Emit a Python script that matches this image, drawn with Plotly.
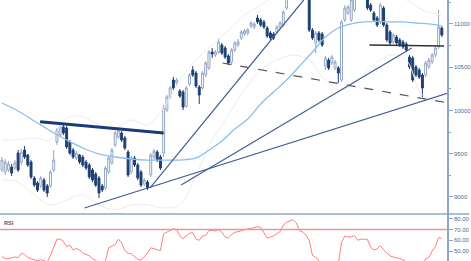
import plotly.graph_objects as go

# ---------------- data ----------------
opens = [9312,9289,9312,9346,9335,9508,9404,9543,9485,9404,
         9219,9162,9127,9196,9127,9127,9312,9636,9716,9809,
         9797,9636,9543,9451,9485,9462,9404,9370,9312,9266,
         9219,9127,9104,9289,9393,9601,9693,9740,9682,9520,
         9289,9451,9370,9289,9150,9173,9254,9462,9520,9462,
         9508,10005,10156,10352,10318,10225,10214,10052,10306,10468,
         10433,10271,10260,10410,10491,10676,10641,10676,10757,10722,
         10630,10560,10699,10757,10838,10884,10896,10976,10965,11069,
         11046,11023,10953,10896,10884,10907,10965,10988,11185,11335,
         11393,11450,11416,11531,11450,11393,10930,10780,10896,10884,
         10514,10583,10549,10491,10491,10352,11046,11127,11046,11161,
         11369,11416,11369,11312,11219,11127,11069,11023,11185,10988,
         10907,10792,10849,10815,10792,10768,10618,10607,10503,10468,
         10410,10410,10503,10560,10641,10734,10953]
closes = [9427,9404,9381,9277,9393,9312,9520,9462,9370,9231,
          9138,9081,9219,9081,9046,9289,9427,9774,9809,9740,
          9578,9508,9462,9508,9404,9370,9335,9231,9196,9138,
          9046,9081,9335,9451,9543,9740,9763,9659,9566,9254,
          9451,9370,9219,9138,9196,9104,9485,9531,9427,9335,
          10029,10156,10260,10260,10352,10167,10040,10260,10410,10410,
          10283,10179,10433,10549,10676,10653,10676,10792,10664,10618,
          10549,10699,10780,10792,10907,10919,10930,11011,11000,11023,
          10988,10965,10861,10838,10838,10965,11011,11138,11300,11416,
          11508,11393,11566,11416,11335,10930,10838,10896,10815,10757,
          10607,10491,10618,10560,10433,11023,11185,11196,11277,11393,
          11450,11335,11300,11185,11161,11046,10988,11219,10988,10815,
          10780,10872,10780,10757,10734,10699,10503,10352,10410,10387,
          10260,10549,10583,10641,10722,10965,10872]
highs = [9462,9439,9416,9381,9427,9543,9555,9589,9497,9427,
         9242,9185,9242,9219,9150,9312,9543,9797,9844,9832,
         9821,9659,9566,9531,9497,9485,9427,9393,9335,9289,
         9242,9150,9358,9474,9566,9763,9809,9763,9705,9543,
         9474,9474,9393,9312,9219,9196,9508,9555,9543,9485,
         10063,10179,10283,10387,10375,10248,10237,10283,10433,10514,
         10456,10294,10456,10572,10699,10722,10699,10838,10780,10745,
         10653,10722,10803,10826,10930,10942,10953,11034,11023,11104,
         11069,11046,10976,10919,10907,10988,11034,11161,11335,11450,
         11531,11508,11600,11566,11485,11416,10953,10919,10919,10907,
         10630,10607,10641,10583,10514,11046,11219,11219,11335,11416,
         11485,11450,11393,11335,11242,11150,11092,11242,11208,11011,
         10930,10896,10872,10838,10815,10792,10641,10630,10526,10491,
         10433,10572,10607,10664,10745,11161,10976]
lows = [9289,9254,9289,9242,9312,9289,9370,9439,9346,9208,
        9115,9057,9104,9057,9000,9104,9289,9601,9693,9716,
        9555,9485,9439,9427,9381,9346,9312,9208,9173,9115,
        8988,9057,9081,9266,9370,9578,9670,9636,9543,9231,
        9266,9346,9196,9115,9127,9081,9231,9439,9404,9312,
        9462,9982,10133,10237,10294,10144,10005,10029,10283,10387,
        10260,10075,10237,10387,10468,10607,10618,10653,10641,10595,
        10526,10537,10676,10734,10815,10861,10872,10953,10942,11000,
        10965,10942,10838,10815,10815,10884,10942,10965,11161,11312,
        11369,11369,11393,11393,11312,10907,10815,10664,10792,10734,
        10468,10468,10526,10468,10318,10329,11023,11104,11023,11138,
        11335,11300,11277,11161,11138,11023,10965,11000,10965,10792,
        10757,10768,10757,10734,10711,10676,10479,10329,10387,10364,
        10156,10387,10479,10537,10618,10711,10849]

rsi = [45,43,43,44,44.5,44,48,47,44,43,
       42,41,42,41,40,46,54,61,61,59,
       54,55.5,51,52.5,51,48,47,45.5,43,41.5,
       38,37,41,53,54.5,56,61,57.5,50.5,48,
       47.5,45,42.5,41.5,44.4,48,53,52,51,50.5,
       66,67.5,69,70.5,70,64,61.5,64.4,66.5,67,
       61,60,64,64.4,69,69,68.5,69.7,67.5,63,
       62,65.5,67.3,68,69,70,70.5,71,72,72.5,
       72,67,62,63,64,66,68,74,76.5,78,
       79,76,69,67.5,65,60,46,44.5,41,37,
       34,33,34,36,38,58,64,63,63,64.5,
       60,61,61,60.7,53.5,51,52,55,51,48,
       45.5,44.5,44,43,42,40,36,33,34,33,
       35,43,44,50,54,62.5,61.5]

# moving average (index, value)
ma_idx = [0,5,10,15,20,25,30,35,40,45,50,55,60,65,68,72,76,80,84,88,92,96,100,104,108,112,116,120,124,128,132,136]
ma_val = [10086,9994,9878,9763,9659,9566,9497,9462,9439,9427,9427,9427,9451,9566,9647,9786,9901,10075,10214,10352,10514,10676,10849,10953,11000,11023,11029,11023,11023,11011,11000,10976]

# envelope bands (index, value)
bb_idx = [0,5,10,15,20,25,30,35,40,45,50,55,60,65,70,75,80,85,90,95,100,105,110,115,120,125,130,136]
bb_up = [9659,9659,9682,9659,9913,9925,9832,9797,9890,9832,10029,10352,10583,10757,10930,11104,11219,11335,11400,11420,11420,11400,11380,11350,11300,11280,11161,11104]
bb_lo = [9196,9173,9023,8908,8965,9023,8908,8850,8908,8908,8873,8908,9254,9659,9948,10237,10468,10583,10641,10583,10352,10237,10352,10526,10641,10583,10179,10121]

# drawn lines: (start index, start value, end index, end value)
resist = [11.8, 9870, 50.0, 9740]
support_long = [25.5, 8873, 137.9, 10202]
steep = [45.8, 9104, 93.3, 11277]
line_a = [55.4, 9139, 126.7, 10723]
dashed = [68.2, 10549, 137.9, 10087]
neck = [113.6, 10757, 136.7, 10745]

price_ticks = [9000, 9500, 10000, 10500, 11000]
rsi_ticks = [50, 60, 70, 80]

idx = list(range(len(opens)))

DARK = "#1d3f72"
UPLINE = "#93a6c4"
TREND = "#3f5f93"
AXIS = "#8ea7c9"
LBL = "#4c6b93"

fig = go.Figure()

fig.add_trace(go.Scatter(x=bb_idx, y=bb_up, mode="lines", line=dict(color="#ececec", width=1, shape="spline"), hoverinfo="skip"))
fig.add_trace(go.Scatter(x=bb_idx, y=bb_lo, mode="lines", line=dict(color="#ececec", width=1, shape="spline"), hoverinfo="skip"))
fig.add_trace(go.Scatter(x=ma_idx, y=ma_val, mode="lines", line=dict(color="#86bff0", width=1.3, shape="spline"), hoverinfo="skip"))

fig.add_trace(go.Candlestick(
    x=idx, open=opens, high=highs, low=lows, close=closes,
    increasing=dict(line=dict(color=UPLINE, width=1), fillcolor="white"),
    decreasing=dict(line=dict(color=DARK, width=1), fillcolor=DARK),
    whiskerwidth=0, hoverinfo="skip"))

def seg(s, color, width, dash="solid"):
    fig.add_trace(go.Scatter(x=[s[0], s[2]], y=[s[1], s[3]], mode="lines",
                             line=dict(color=color, width=width, dash=dash), hoverinfo="skip"))

seg(resist, "#1b3a78", 3)
seg(support_long, TREND, 1.2)
seg(steep, TREND, 1.2)
seg(line_a, TREND, 1.2)
seg(dashed, "#555555", 1.2, "dash")
seg(neck, "#333333", 1.6)

fig.add_trace(go.Scatter(x=idx, y=rsi, mode="lines", line=dict(color="#ff7f7f", width=1),
                         xaxis="x2", yaxis="y2", hoverinfo="skip"))

fig.update_layout(
    width=471, height=261, margin=dict(l=0, r=15, t=0, b=0),
    paper_bgcolor="white", plot_bgcolor="white", showlegend=False, boxgap=0.15,
    xaxis=dict(range=[-0.6, 137.6], visible=False, rangeslider=dict(visible=False), domain=[0, 1]),
    xaxis2=dict(range=[-0.6, 137.6], visible=False, anchor="y2", domain=[0, 1]),
    yaxis=dict(domain=[0.18, 1], range=[8803, 11277], side="right", showgrid=False, zeroline=False,
               showline=True, linecolor=AXIS, linewidth=1.5, ticks="outside", ticklen=4, tickcolor=AXIS,
               tickvals=price_ticks, tickformat="d", tickfont=dict(size=6, color=LBL, family="Arial"),
               minor=dict(ticks="outside", ticklen=2, tickcolor=AXIS, dtick=250)),
    yaxis2=dict(domain=[0, 0.18], range=[40.8, 84.3], side="right", showgrid=False, zeroline=False, anchor="x2",
                showline=True, linecolor=AXIS, linewidth=1.5, ticks="outside", ticklen=4, tickcolor=AXIS,
                tickvals=rsi_ticks, tickformat=".2f", tickfont=dict(size=6, color=LBL, family="Arial")),
    shapes=[
        dict(type="line", xref="paper", yref="paper", x0=0, x1=1.05, y0=0.18, y1=0.18,
             line=dict(color=AXIS, width=1.5)),
        dict(type="line", xref="x2", yref="y2", x0=-0.6, x1=137.6, y0=70, y1=70,
             line=dict(color="#e39a9a", width=1.5)),
    ],
    annotations=[dict(text="<b>RSI</b>", xref="paper", yref="paper", x=0.005, y=0.165, xanchor="left",
                      yanchor="top", showarrow=False, font=dict(size=5.5, color="#3d5a80", family="Arial"))],
)

fig.write_html("out.html")
